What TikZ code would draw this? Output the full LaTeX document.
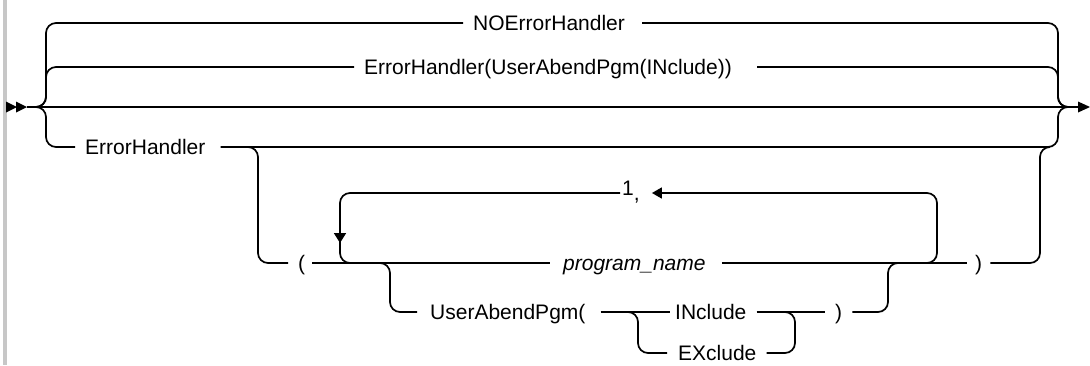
\documentclass[tikz,border=0pt]{standalone}
\usepackage{fontspec}
\setmainfont{Liberation Sans}
\usetikzlibrary{arrows.meta}
\tikzset{
  rr/.style={line width=1.7pt, rounded corners=10pt},
  mainln/.style={line width=2.2pt},
  lbl/.style={inner sep=0pt, text height=15pt, text depth=0pt, anchor=west, font=\fontsize{21}{25}\selectfont},
  tip/.style={fill=black, draw=none}
}
\begin{document}
\begin{tikzpicture}[x=1pt,y=-1pt]
\useasboundingbox (0,0) rectangle (1090,365);
% left grey bar
\draw[black!22, line width=4pt] (5,0) -- (5,365);

% text nodes
\node[lbl] (noe) at (473,23) {NOErrorHandler};
\node[lbl] (ehu) at (364,67) {ErrorHandler(UserAbendPgm(INclude))};
\node[lbl] (eh)  at (85,147) {ErrorHandler};
\node[lbl] (lp)  at (298,263) {(};
\node[lbl] (pn)  at (563,263) {\itshape program\_name};
\node[lbl] (rp1) at (975,263) {)};
\node[lbl] (one) at (622,193) {\raisebox{5pt}{1},};
\node[lbl] (uap) at (430,312) {UserAbendPgm(};
\node[lbl] (inc) at (675,312) {INclude};
\node[lbl] (exc) at (678,353) {EXclude};
\node[lbl] (rp2) at (835,312) {)};

% junction coordinates
\coordinate (L) at (46,107);
\coordinate (R) at (1058,107);
\coordinate (start) at (27,107);
\coordinate (stop) at (1078,107);

% main line and arrows
\draw[mainln] (start) -- (stop);
\fill[tip] (6,101.5) -- (17,107) -- (6,112.5) -- cycle;
\fill[tip] (16,101.5) -- (27,107) -- (16,112.5) -- cycle;
\fill[tip] (1078,101.5) -- (1090,107) -- (1078,112.5) -- cycle;

% NOErrorHandler
\draw[rr] (36,107) -- (L) -- (46,23) -- ([xshift=-10pt]noe.west);
\draw[rr] ([xshift=17pt]noe.east) -- (1058,23) -- (R) -- (1068,107);
% ErrorHandler(UserAbendPgm(INclude))
\draw[rr] (36,107) -- (L) -- (46,67) -- ([xshift=-10pt]ehu.west);
\draw[rr] ([xshift=25pt]ehu.east) -- (1058,67) -- (R) -- (1068,107);
% ErrorHandler
\draw[rr] (36,107) -- (L) -- (46,147) -- ([xshift=-10pt]eh.west);
\draw[rr] ([xshift=15pt]eh.east) -- (1058,147) -- (R) -- (1068,107);

% ( ... ) branch
\draw[rr] (248,147) -- (258,147) -- (258,263) -- ([xshift=-10pt]lp.west);
\draw[rr] ([xshift=7pt]lp.east) -- ([xshift=-13pt]pn.west);
\draw[rr] ([xshift=16pt]pn.east) -- ([xshift=-8pt]rp1.west);
\draw[rr] ([xshift=8pt]rp1.east) -- (1040,263) -- (1040,147) -- (1050,147);

% repeat loop
\draw[rr, -{Triangle[length=10pt,width=12pt]}] ([xshift=-2pt]one.west) -- (340,193) -- (340,243);
\draw[rr] (340,238) -- (340,263) -- (360,263);
\draw[rr, {Triangle[length=10pt,width=11pt]}-] ([xshift=12pt]one.east) -- (937,193) -- (937,263) -- (927,263);

% UserAbendPgm branch
\draw[rr] (380,263) -- (390,263) -- (390,312) -- ([xshift=-13pt]uap.west);
\draw[rr] ([xshift=15pt]uap.east) -- ([xshift=-5pt]inc.west);
\draw[rr] ([xshift=10pt]inc.east) -- ([xshift=-10pt]rp2.west);
\draw[rr] (628,312) -- (638,312) -- (638,353) -- ([xshift=-11pt]exc.west);
\draw[rr] ([xshift=10pt]exc.east) -- (795,353) -- (795,312) -- (785,312);
\draw[rr] ([xshift=10pt]rp2.east) -- (888,312) -- (888,263) -- (898,263);
\end{tikzpicture}
\end{document}
